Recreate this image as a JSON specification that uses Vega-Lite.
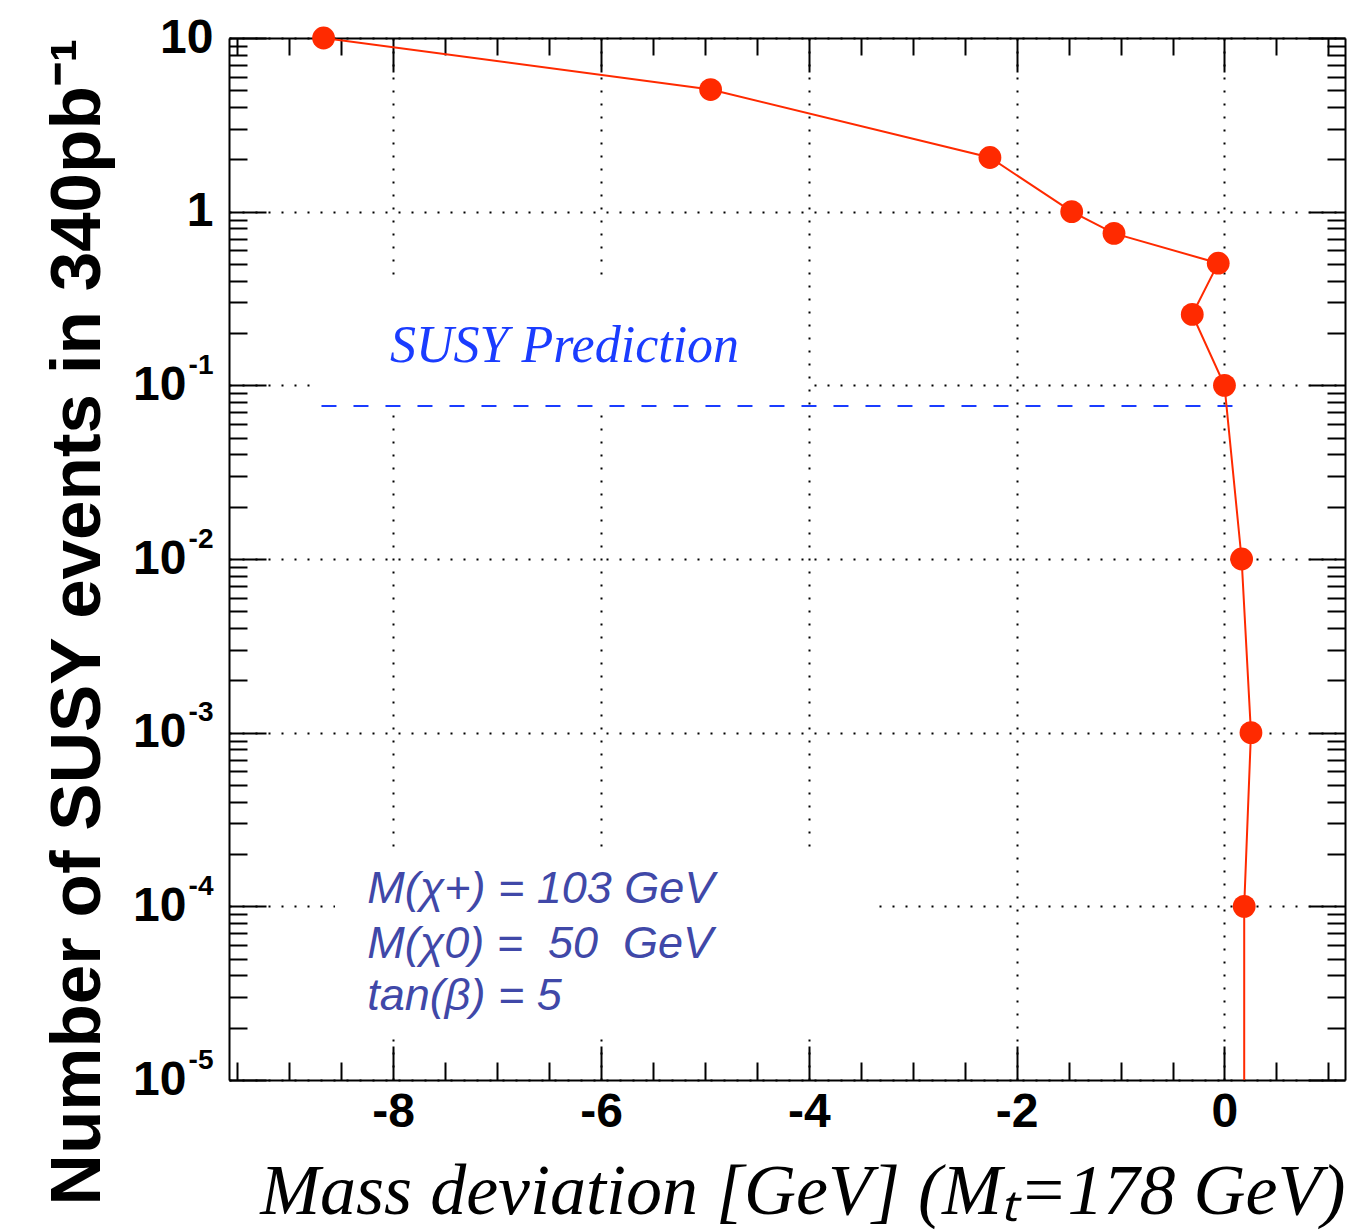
{
  "$schema": "https://vega.github.io/schema/vega-lite/v6.json",
  "width": 1116,
  "height": 1042,
  "autosize": {"type": "none"},
  "padding": {"left": 229, "top": 38, "right": 21, "bottom": 151},
  "background": "white",
  "datasets": {
    "points": [
      {"i": 1, "x": -8.67, "y": 10},
      {"i": 2, "x": -4.945, "y": 5.05},
      {"i": 3, "x": -2.257, "y": 2.05},
      {"i": 4, "x": -1.47, "y": 1.0},
      {"i": 5, "x": -1.063, "y": 0.75},
      {"i": 6, "x": -0.06, "y": 0.505},
      {"i": 7, "x": -0.31, "y": 0.256},
      {"i": 8, "x": 0.0, "y": 0.1},
      {"i": 9, "x": 0.165, "y": 0.01},
      {"i": 10, "x": 0.255, "y": 0.001},
      {"i": 11, "x": 0.19, "y": 0.0001},
      {"i": 12, "x": 0.19, "y": 0.000001}
    ],
    "boxes": [
      {"x1": -8.705, "x2": -4.04, "y1": 0.0722, "y2": 0.404},
      {"x1": -8.56, "x2": -3.41, "y1": 0.0000182, "y2": 0.000217}
    ],
    "prediction": [
      {"x1": -8.69, "x2": 0.21, "y": 0.0761, "label": "SUSY Prediction", "lx": -8.03, "ly": 0.1355}
    ],
    "params": [
      {"x": -8.25, "y": 0.000104, "text": "M(χ+) = 103 GeV"},
      {"x": -8.25, "y": 0.0000503, "text": "M(χ0) = \u00a050 \u00a0GeV"},
      {"x": -8.25, "y": 0.0000253, "text": "tan(β) = 5"}
    ]
  },
  "config": {
    "view": {"stroke": null},
    "axis": {
      "grid": false, "domain": false, "labels": false, "ticks": false,
      "tickColor": "black", "tickWidth": 2, "domainColor": "black", "domainWidth": 2,
      "labelOverlap": false, "labelFlush": false, "labelColor": "black"
    }
  },
  "resolve": {"axis": {"x": "independent", "y": "independent"}},
  "layer": [
    {
      "data": {"name": "boxes"},
      "mark": {"type": "rect", "fill": "white", "stroke": null},
      "encoding": {
        "x": {"field": "x1", "type": "quantitative",
          "scale": {"domain": [-9.58, 1.16], "nice": false, "zero": false},
          "axis": {"orient": "bottom", "title": null, "values": [-8, -6, -4, -2, 0],
            "ticks": true, "tickSize": -34, "domain": true,
            "grid": true, "gridColor": "black", "gridWidth": 2, "gridDash": [2, 11], "gridOpacity": 1}},
        "x2": {"field": "x2"},
        "y": {"field": "y1", "type": "quantitative",
          "scale": {"type": "log", "domain": [0.00001, 10], "nice": false},
          "axis": {"orient": "left", "title": null,
            "values": [0.00001, 0.0001, 0.001, 0.01, 0.1, 1, 10],
            "ticks": true, "tickSize": -37, "domain": true,
            "grid": true, "gridColor": "black", "gridWidth": 2, "gridDash": [2, 11], "gridOpacity": 1}},
        "y2": {"field": "y2"}
      }
    },
    {
      "data": {"name": "prediction"},
      "mark": {"type": "rule", "color": "#1a3cff", "strokeWidth": 2, "strokeDash": [15, 17]},
      "encoding": {
        "x": {"field": "x1", "type": "quantitative",
          "scale": {"domain": [-9.58, 1.16], "nice": false, "zero": false},
          "axis": {"orient": "top", "title": null, "values": [-8, -6, -4, -2, 0],
            "ticks": true, "tickSize": -34, "domain": true}},
        "x2": {"field": "x2"},
        "y": {"field": "y", "type": "quantitative",
          "scale": {"type": "log", "domain": [0.00001, 10], "nice": false},
          "axis": {"orient": "right", "title": null,
            "values": [0.00001, 0.0001, 0.001, 0.01, 0.1, 1, 10],
            "ticks": true, "tickSize": -36, "domain": true}}
      }
    },
    {
      "data": {"name": "points"},
      "mark": {"type": "line", "color": "#ff2a00", "strokeWidth": 2, "clip": true},
      "encoding": {
        "order": {"field": "i", "type": "quantitative"},
        "x": {"field": "x", "type": "quantitative",
          "scale": {"domain": [-9.58, 1.16], "nice": false, "zero": false},
          "axis": {"orient": "bottom", "title": null,
            "values": [-9.5, -9, -8.5, -7.5, -7, -6.5, -5.5, -5, -4.5, -3.5, -3, -2.5, -1.5, -1, -0.5, 0.5, 1],
            "ticks": true, "tickSize": -18}},
        "y": {"field": "y", "type": "quantitative",
          "scale": {"type": "log", "domain": [0.00001, 10], "nice": false},
          "axis": {"orient": "left", "title": null,
            "values": [0.00002, 0.00003, 0.00004, 0.00005, 0.00006, 0.00007, 0.00008, 0.00009,
              0.0002, 0.0003, 0.0004, 0.0005, 0.0006, 0.0007, 0.0008, 0.0009,
              0.002, 0.003, 0.004, 0.005, 0.006, 0.007, 0.008, 0.009,
              0.02, 0.03, 0.04, 0.05, 0.06, 0.07, 0.08, 0.09,
              0.2, 0.3, 0.4, 0.5, 0.6, 0.7, 0.8, 0.9,
              2, 3, 4, 5, 6, 7, 8, 9],
            "ticks": true, "tickSize": -18}}
      }
    },
    {
      "data": {"name": "points"},
      "transform": [{"filter": "datum.y >= 0.00001"}],
      "mark": {"type": "circle", "color": "#ff2a00", "opacity": 1, "size": 520},
      "encoding": {
        "x": {"field": "x", "type": "quantitative",
          "scale": {"domain": [-9.58, 1.16], "nice": false, "zero": false},
          "axis": {"orient": "top", "title": null,
            "values": [-9.5, -9, -8.5, -7.5, -7, -6.5, -5.5, -5, -4.5, -3.5, -3, -2.5, -1.5, -1, -0.5, 0.5, 1],
            "ticks": true, "tickSize": -17}},
        "y": {"field": "y", "type": "quantitative",
          "scale": {"type": "log", "domain": [0.00001, 10], "nice": false},
          "axis": {"orient": "right", "title": null,
            "values": [0.00002, 0.00003, 0.00004, 0.00005, 0.00006, 0.00007, 0.00008, 0.00009,
              0.0002, 0.0003, 0.0004, 0.0005, 0.0006, 0.0007, 0.0008, 0.0009,
              0.002, 0.003, 0.004, 0.005, 0.006, 0.007, 0.008, 0.009,
              0.02, 0.03, 0.04, 0.05, 0.06, 0.07, 0.08, 0.09,
              0.2, 0.3, 0.4, 0.5, 0.6, 0.7, 0.8, 0.9,
              2, 3, 4, 5, 6, 7, 8, 9],
            "ticks": true, "tickSize": -18}}
      }
    },
    {
      "data": {"name": "prediction"},
      "mark": {"type": "text", "font": "Liberation Serif", "fontStyle": "italic", "fontSize": 52,
        "color": "#1a3cff", "align": "left", "baseline": "alphabetic"},
      "encoding": {
        "text": {"field": "label"},
        "x": {"field": "lx", "type": "quantitative",
          "scale": {"domain": [-9.58, 1.16], "nice": false, "zero": false},
          "axis": {"orient": "bottom", "values": [-8, -6, -4, -2, 0],
            "labels": true, "labelExpr": "'' + datum.value",
            "labelFont": "Liberation Sans", "labelFontWeight": "bold", "labelFontSize": 48,
            "labelPadding": 8, "labelBaseline": "top",
            "title": "Mass deviation [GeV] (Mₜ=178 GeV)",
            "titleFont": "Liberation Serif", "titleFontStyle": "italic", "titleFontWeight": "normal",
            "titleFontSize": 72, "titleColor": "black", "titleAnchor": "end", "titlePadding": 20}},
        "y": {"field": "ly", "type": "quantitative",
          "scale": {"type": "log", "domain": [0.00001, 10], "nice": false},
          "axis": {"orient": "left",
            "values": [0.00001, 0.0001, 0.001, 0.01, 0.1, 1, 10],
            "labels": true,
            "labelExpr": "datum.value >= 5 ? '10' : (datum.value >= 0.5 ? '1' : '10')",
            "labelFont": "Liberation Sans", "labelFontWeight": "bold", "labelFontSize": 48,
            "labelBaseline": "middle",
            "labelPadding": {"condition": {"test": "datum.value >= 0.5", "value": 16}, "value": 43},
            "title": "Number of SUSY events in 340pb⁻¹",
            "titleFont": "Liberation Sans", "titleFontWeight": "bold", "titleFontSize": 71,
            "titleColor": "black", "titleAnchor": "end", "titlePadding": 18}}
      }
    },
    {
      "data": {"name": "params"},
      "mark": {"type": "text", "font": "Liberation Sans", "fontStyle": "italic", "fontSize": 45,
        "color": "#4048a8", "align": "left", "baseline": "alphabetic"},
      "encoding": {
        "text": {"field": "text"},
        "x": {"field": "x", "type": "quantitative",
          "scale": {"domain": [-9.58, 1.16], "nice": false, "zero": false}, "axis": null},
        "y": {"field": "y", "type": "quantitative",
          "scale": {"type": "log", "domain": [0.00001, 10], "nice": false},
          "axis": {"orient": "left", "title": null,
            "values": [0.00001, 0.0001, 0.001, 0.01, 0.1],
            "labels": true,
            "labelExpr": "'-' + round(-log(datum.value) / LN10)",
            "labelFont": "Liberation Sans", "labelFontWeight": "bold", "labelFontSize": 28,
            "labelBaseline": "middle", "labelPadding": 16, "labelOffset": -20}}
      }
    }
  ]
}
